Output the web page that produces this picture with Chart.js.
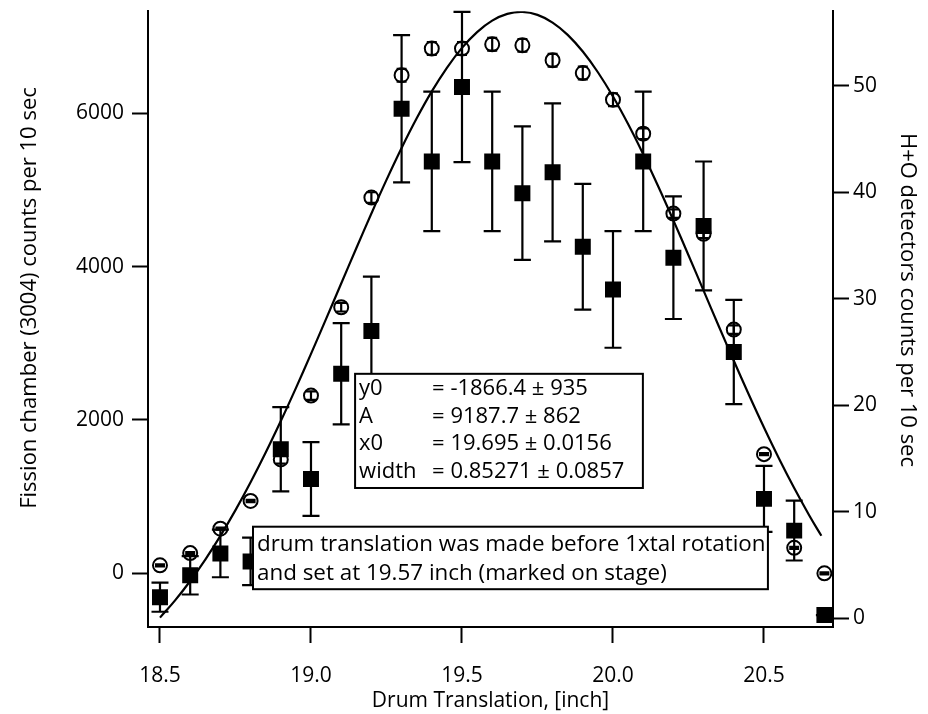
<!DOCTYPE html>
<html>
<head>
<meta charset="utf-8">
<script src="https://cdn.jsdelivr.net/npm/chart.js@4.4.1/dist/chart.umd.min.js"></script>
<style>
  html, body { margin: 0; padding: 0; background: #fff; }
  #wrap { width: 928px; height: 714px; }
</style>
</head>
<body>
<div id="wrap"><canvas id="chart" width="928" height="714"></canvas></div>
<script>
// drum positions, inch
const drumPos = [18.5, 18.6, 18.7, 18.8, 18.9, 19.0, 19.1, 19.2, 19.3, 19.4, 19.5, 19.6,
                 19.7, 19.8, 19.9, 20.0, 20.1, 20.2, 20.3, 20.4, 20.5, 20.6, 20.7];

// fission chamber (3004), counts per 10 sec (left axis)
const fissionCounts = [-311, -26, 259, 155, 1618, 1230, 2602, 3159, 6058, 5372, 6343, 5372,
                       4958, 5230, 4259, 3702, 5372, 4117, 4531, 2887, 971, 557, -544];
const fissionErr = [190, 250, 310, 310, 550, 480, 660, 710, 960, 910, 980, 910,
                    870, 900, 820, 760, 910, 800, 840, 680, 430, 390, 0];

// H+O detectors, counts per 10 sec (right axis)
const hoCounts = [4.95, 6.1, 8.4, 11.0, 14.9, 20.9, 29.2, 39.5, 51.0, 53.5, 53.5, 53.9,
                  53.8, 52.4, 51.2, 48.7, 45.5, 38.0, 36.1, 27.1, 15.4, 6.6, 4.2];
const hoErr = [0.1, 0.1, 0.1, 0.1, 0.4, 0.4, 0.4, 0.5, 0.6, 0.6, 0.6, 0.6,
               0.6, 0.6, 0.6, 0.6, 0.5, 0.4, 0.4, 0.4, 0.1, 0.1, 0.1];

// gaussian fit curve
const fitX = [18.50, 18.55, 18.60, 18.65, 18.70, 18.75, 18.80, 18.85, 18.90, 18.95,
              19.00, 19.05, 19.10, 19.15, 19.20, 19.25, 19.30, 19.35, 19.40, 19.45,
              19.50, 19.55, 19.60, 19.65, 19.70, 19.75, 19.80, 19.85, 19.90, 19.95,
              20.00, 20.05, 20.10, 20.15, 20.20, 20.25, 20.30, 20.35, 20.40, 20.45,
              20.50, 20.55, 20.60, 20.65, 20.69];
const fitY = [-578, -353, -100, 180, 488, 824, 1187, 1575, 1986, 2416,
              2862, 3318, 3780, 4240, 4693, 5131, 5547, 5934, 6285, 6593,
              6853, 7059, 7208, 7296, 7321, 7283, 7183, 7023, 6805, 6535,
              6218, 5859, 5466, 5045, 4603, 4149, 3687, 3226, 2772, 2329,
              1902, 1495, 1112, 755, 490];

const xTicks = [18.5, 19.0, 19.5, 20.0, 20.5];
const leftTicks = [0, 2000, 4000, 6000];
const rightTicks = [0, 10, 20, 30, 40, 50];

const xTitle = 'Drum Translation, [inch]';
const leftTitle = 'Fission chamber (3004) counts per 10 sec';
const rightTitle = 'H+O detectors counts per 10 sec';

const fitLabels = ['y0', 'A', 'x0', 'width'];
const fitValues = ['= -1866.4 \u00b1 935', '= 9187.7 \u00b1 862', '= 19.695 \u00b1 0.0156', '= 0.85271 \u00b1 0.0857'];
const noteLines = ['drum translation was made before 1xtal rotation', 'and set at 19.57 inch (marked on stage)'];

const FONT = '"Open Sans", "Noto Sans", sans-serif';

// error bars drawn under the markers
const errorBars = {
    id: 'errorBars',
    beforeDatasetsDraw(chart) {
        const ctx = chart.ctx;
        chart.data.datasets.forEach((ds, i) => {
            if (!ds.errors) return;
            const meta = chart.getDatasetMeta(i);
            const scale = chart.scales[ds.yAxisID];
            const half = ds.capWidth / 2;
            ctx.save();
            ctx.strokeStyle = '#000';
            ctx.lineWidth = 2.2;
            meta.data.forEach((pt, j) => {
                const v = ds.data[j].y;
                const e = ds.errors[j];
                const top = scale.getPixelForValue(v + e);
                const bot = scale.getPixelForValue(v - e);
                ctx.beginPath();
                ctx.moveTo(pt.x, top); ctx.lineTo(pt.x, bot);
                ctx.moveTo(pt.x - half, top); ctx.lineTo(pt.x + half, top);
                ctx.moveTo(pt.x - half, bot); ctx.lineTo(pt.x + half, bot);
                ctx.stroke();
            });
            ctx.restore();
        });
    }
};

// text boxes on top of the data
const textBoxes = {
    id: 'textBoxes',
    afterDatasetsDraw(chart) {
        const ctx = chart.ctx;
        const x = chart.scales.x, y = chart.scales.y;
        ctx.save();
        ctx.textBaseline = 'middle';
        ctx.strokeStyle = '#000';
        ctx.lineWidth = 2;

        // fit results
        let l = x.getPixelForValue(19.146), r = x.getPixelForValue(20.099);
        let t = y.getPixelForValue(2602), b = y.getPixelForValue(1113);
        ctx.fillStyle = '#fff';
        ctx.fillRect(l, t, r - l, b - t);
        ctx.strokeRect(l, t, r - l, b - t);
        ctx.fillStyle = '#000';
        ctx.font = '22px ' + FONT;
        fitLabels.forEach((s, k) => {
            const ly = t + 15 + k * 27.5;
            ctx.fillText(s, l + 4, ly);
            ctx.fillText(fitValues[k], l + 77, ly);
        });

        // note
        l = x.getPixelForValue(18.808); r = x.getPixelForValue(20.513);
        t = y.getPixelForValue(608); b = y.getPixelForValue(-207);
        ctx.fillStyle = '#fff';
        ctx.fillRect(l, t, r - l, b - t);
        ctx.strokeRect(l, t, r - l, b - t);
        ctx.fillStyle = '#000';
        ctx.font = '22.4px ' + FONT;
        noteLines.forEach((s, k) => {
            ctx.fillText(s, l + 4, t + 18 + k * 28.5);
        });
        ctx.restore();
    }
};

// vertical axis titles, centred a little above the middle as in the original
const sideTitles = {
    id: 'sideTitles',
    afterDraw(chart) {
        const ctx = chart.ctx;
        ctx.save();
        ctx.font = '22px ' + FONT;
        ctx.fillStyle = '#000';
        ctx.textAlign = 'center';
        ctx.textBaseline = 'middle';
        ctx.translate(30, 298);
        ctx.rotate(-Math.PI / 2);
        ctx.fillText(leftTitle, 0, 0);
        ctx.restore();
        ctx.save();
        ctx.font = '22px ' + FONT;
        ctx.fillStyle = '#000';
        ctx.textAlign = 'center';
        ctx.textBaseline = 'middle';
        ctx.translate(907, 300);
        ctx.rotate(Math.PI / 2);
        ctx.fillText(rightTitle, 0, 0);
        ctx.restore();
    }
};

function fixedTicks(list) {
    return function(scale) {
        scale.ticks = list.map(v => ({ value: v }));
    };
}

const axisCommon = {
    grid: { display: true, drawOnChartArea: false, drawTicks: true, tickLength: 16, tickWidth: 2, color: '#000' },
    border: { display: true, color: '#000', width: 2 }
};

new Chart(document.getElementById('chart'), {
    type: 'scatter',
    data: {
        datasets: [
            {
                label: 'fit',
                type: 'line',
                data: fitX.map((v, i) => ({ x: v, y: fitY[i] })),
                yAxisID: 'y',
                borderColor: '#000',
                borderWidth: 2.2,
                pointRadius: 0,
                tension: 0.4,
                fill: false
            },
            {
                label: 'H+O detectors',
                data: drumPos.map((v, i) => ({ x: v, y: hoCounts[i] })),
                yAxisID: 'y2',
                errors: hoErr,
                capWidth: 10,
                pointStyle: 'circle',
                pointRadius: 7,
                pointBorderWidth: 2,
                pointBorderColor: '#000',
                pointBackgroundColor: 'rgba(0,0,0,0)'
            },
            {
                label: 'Fission chamber',
                data: drumPos.map((v, i) => ({ x: v, y: fissionCounts[i] })),
                yAxisID: 'y',
                errors: fissionErr,
                capWidth: 17,
                pointStyle: 'rect',
                pointRadius: 11.3,
                pointBorderWidth: 0,
                pointBackgroundColor: '#000'
            }
        ]
    },
    options: {
        responsive: false,
        animation: false,
        devicePixelRatio: 1,
        layout: { padding: { top: 8, left: 0, right: 0, bottom: 0 } },
        plugins: { legend: { display: false }, tooltip: { enabled: false } },
        scales: {
            x: {
                ...axisCommon,
                type: 'linear',
                min: 18.4603,
                max: 20.7285,
                afterBuildTicks: fixedTicks(xTicks),
                afterFit: s => { s.height = 87; s.paddingLeft = 0; s.paddingRight = 0; },
                ticks: { color: '#000', font: { family: FONT, size: 21 }, padding: 20, maxRotation: 0,
                         callback: v => v.toFixed(1) },
                title: { display: true, text: xTitle, color: '#000',
                         font: { family: FONT, size: 21 }, padding: { top: 0, bottom: 0 } }
            },
            y: {
                ...axisCommon,
                position: 'left',
                min: -700,
                max: 7330,
                afterBuildTicks: fixedTicks(leftTicks),
                afterFit: s => { s.width = 148; s.paddingTop = 0; s.paddingBottom = 0; },
                ticks: { color: '#000', font: { family: FONT, size: 21 }, padding: 8,
                         callback: v => String(v) }
            },
            y2: {
                ...axisCommon,
                position: 'right',
                min: -0.84,
                max: 57.0,
                afterBuildTicks: fixedTicks(rightTicks),
                afterFit: s => { s.width = 95; s.paddingTop = 0; s.paddingBottom = 0; },
                ticks: { color: '#000', font: { family: FONT, size: 21 }, padding: 4,
                         callback: v => String(v) }
            }
        }
    },
    plugins: [errorBars, textBoxes, sideTitles]
});
</script>
</body>
</html>
